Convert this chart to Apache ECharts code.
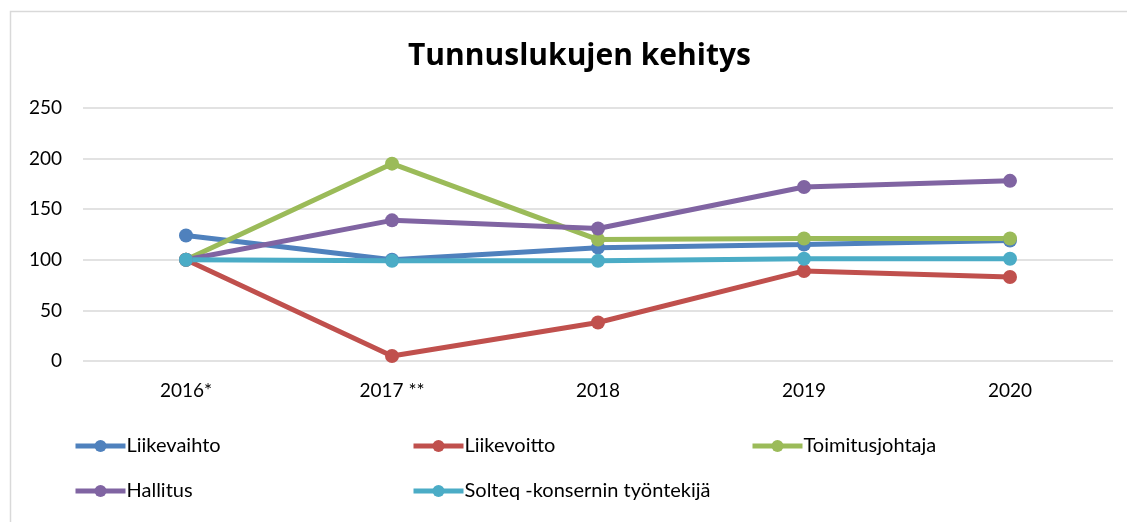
<!DOCTYPE html>
<html><head><meta charset="utf-8">
<script src="https://cdn.jsdelivr.net/npm/echarts@6/dist/echarts.min.js"></script>
<style>html,body{margin:0;padding:0;background:#fff}#c{width:1127px;height:522px}</style>
</head><body><div id="c"></div>
<script>
const categories = ['2016*', '2017 **', '2018', '2019', '2020'];
const seriesNames = ['Liikevaihto', 'Liikevoitto', 'Toimitusjohtaja', 'Hallitus', 'Solteq -konsernin työntekijä'];
const liikevaihto = [124, 100, 112, 115, 119];
const liikevoitto = [100, 5, 38, 89, 83];
const toimitusjohtaja = [100, 195, 120, 121, 121];
const hallitus = [100, 139, 131, 172, 178];
const solteq = [100, 99, 99, 101, 101];
const yTicks = [0, 50, 100, 150, 200, 250];

const colors = ['#4F81BD', '#C0504D', '#9BBB59', '#8064A2', '#4BACC6'];
const values = [liikevaihto, liikevoitto, toimitusjohtaja, hallitus, solteq];
const font = 'Lato, "Open Sans", sans-serif';
const legendPos = [[73, 436], [411, 436], [750, 436], [73, 481], [411, 481]];

const chart = echarts.init(document.getElementById('c'), null, {renderer: 'canvas'});
chart.setOption({
  animation: false,
  backgroundColor: '#fff',
  title: {
    text: 'Tunnuslukujen kehitys', left: 403, top: 36,
    textStyle: {fontFamily: '"Open Sans", sans-serif', fontSize: 30, fontWeight: 'bold', color: '#000'}
  },
  graphic: [{
    type: 'rect', left: 8, top: 9, shape: {width: 1200, height: 600},
    style: {fill: 'none', stroke: '#D9D9D9', lineWidth: 1.5}, silent: true, z: -1
  }],
  legend: seriesNames.map((n, i) => ({
    data: [n], left: legendPos[i][0], top: legendPos[i][1], padding: 0,
    itemWidth: 50, itemHeight: 15, itemGap: 0,
    lineStyle: {width: 5},
    textStyle: {fontFamily: font, fontSize: 20, color: '#000', padding: [0, 0, 0, -4]}
  })),
  grid: {left: 83, right: 14, top: 108, bottom: 161},
  xAxis: {
    type: 'category', data: categories, boundaryGap: true,
    axisLine: {show: false}, axisTick: {show: false},
    axisLabel: {fontFamily: font, fontSize: 19, color: '#000', margin: 20}
  },
  yAxis: {
    type: 'value', min: yTicks[0], max: yTicks[yTicks.length - 1], interval: 50,
    axisLine: {show: false}, axisTick: {show: false},
    axisLabel: {fontFamily: font, fontSize: 19, color: '#000', margin: 21},
    splitLine: {lineStyle: {color: '#D9D9D9', width: 1.5}}
  },
  series: seriesNames.map((n, i) => ({
    name: n, type: 'line', data: values[i],
    color: colors[i],
    symbol: 'circle', symbolSize: 14,
    lineStyle: {width: 5, color: colors[i]},
    itemStyle: {color: colors[i]}
  }))
});
</script></body></html>
